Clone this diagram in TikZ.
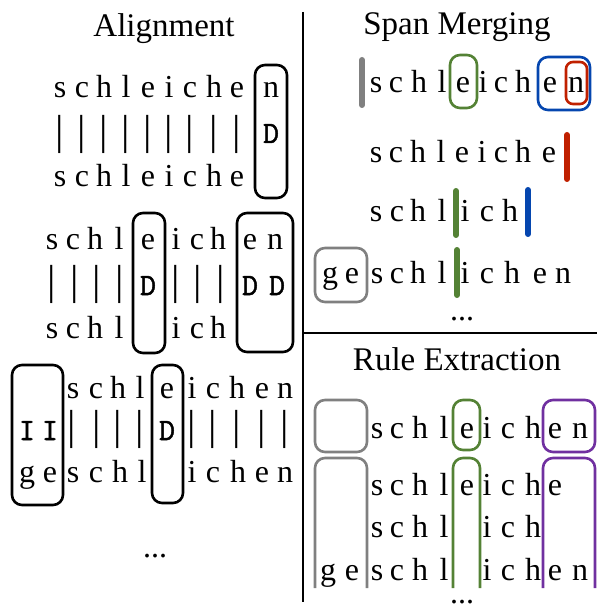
\documentclass[tikz,border=0pt]{standalone}
\usepackage{fontspec}
\setmainfont{Liberation Serif}
\newfontfamily\opfont[FakeBold=1.6]{Latin Modern Mono}
\definecolor{spangray}{RGB}{128,128,128}
\definecolor{spangreen}{RGB}{84,130,53}
\definecolor{spanblue}{RGB}{5,70,175}
\definecolor{spanred}{RGB}{192,32,0}
\definecolor{spanpurple}{RGB}{112,48,160}
\tikzstyle{ch} = [inner sep=0pt, anchor=base, font=\fontsize{32}{32}\selectfont]
\tikzstyle{op} = [inner sep=0pt, anchor=base, font=\opfont\fontsize{31}{31}\selectfont]
\tikzstyle{bar} = [inner sep=0pt, anchor=center, font=\fontsize{42}{42}\selectfont]
\tikzstyle{title} = [inner sep=0pt, anchor=base, font=\fontsize{33}{33}\selectfont]
\tikzstyle{span} = [draw, line width=2.6pt, rounded corners=10pt]
\tikzstyle{cut} = [draw, line width=6pt, line cap=round]
\tikzstyle{sep} = [draw, line width=1.4pt]
% one row of letters: name prefix, baseline, list of x/letter
\newcommand{\chrow}[3]{\foreach \x/\ltr [count=\i] in {#3} {\node [ch] (#1-\i) at (\x,#2) {\ltr};}}
\newcommand{\barrow}[3]{\foreach \x [count=\i] in {#3} {\node [bar] (#1-\i) at (\x,#2) {|};}}

\begin{document}
\begin{tikzpicture}[x=1pt,y=-1pt]
\useasboundingbox (0,0) rectangle (597,609);
\clip (0,0) rectangle (597,609);

% separators
\path [sep] (303,12) -- (303,602);
\path [sep] (303,333) -- (597,333);

% Alignment
\node [title] (ttl1) at (164,37) {Alignment};

\chrow{a1t}{98}{60/s,82/c,104/h,126/l,148/e,169/i,190/c,214/h,237/e,271/n}
\barrow{a1m}{134}{60,82,104,126,148,169,190,214,237}
\node [op] (a1d) at (271,143) {D};
\chrow{a1b}{187}{60/s,82/c,104/h,126/l,148/e,169/i,190/c,214/h,237/e}
\draw [span] (255,65) rectangle (287,198);

\chrow{a2t}{250}{52/s,73/c,95/h,119/l,148/e,176/i,197/c,218/h,250/e,275/n}
\barrow{a2m}{284}{52,75,97,120,176,198,221}
\node [op] (a2d1) at (148,295) {D};
\node [op] (a2d2) at (250,295) {D};
\node [op] (a2d3) at (277,295) {D};
\chrow{a2b}{338}{52/s,73/c,95/h,119/l,176/i,197/c,218/h}
\draw [span] (133,213) rectangle (165,353);
\draw [span] (237,213) rectangle (293,352);

\chrow{a3t}{398}{73/s,96/c,118/h,140/l,167/e,192/i,213/c,237/h,262/e,285/n}
\node [op] (a3i1) at (27,440) {I};
\node [op] (a3i2) at (50,440) {I};
\barrow{a3m}{429}{72,97,118,140,192,213,237,262,285}
\node [op] (a3d) at (167,440) {D};
\chrow{a3b}{482}{27/g,50/e,73/s,96/c,120/h,142/l,192/i,213/c,238/h,262/e,285/n}
\draw [span] (12,365) rectangle (63,505);
\draw [span] (152,365) rectangle (183,503);
\node [ch] (a3dots) at (155,557) {...};

% Span Merging
\node [title] (ttl2) at (457,35) {Span Merging};

\chrow{m1}{93}{376/s,396/c,419/h,442/l,463/e,483/i,501/c,523/h,550/e,576/n}
\chrow{m2}{163}{376/s,396/c,418/h,441/l,462/e,482/i,501/c,523/h,549/e}
\chrow{m3}{222}{376/s,397/c,418/h,442/l,465/i,487/c,510/h}
\chrow{m4}{283}{330/g,352/e,377/s,397/c,418/h,442/l,465/i,487/c,512/h,540/e,563/n}
\path [cut, spangray] (362,60) -- (362,105);
\path [cut, spanred] (567,135) -- (567,179);
\path [cut, spangreen] (456,191) -- (456,235);
\path [cut, spanblue] (528,190) -- (528,234);
\path [cut, spangreen] (457,250) -- (457,295);
\draw [span, spangreen] (450,55) rectangle (477,108);
\draw [span, spanblue] (538,57) rectangle (590,110);
\draw [span, spanred, rounded corners=7pt] (566,62) rectangle (587,104);
\draw [span, spangray] (315,248) rectangle (367,302);
\node [ch] (mdots) at (462,320) {...};

% Rule Extraction
\node [title] (ttl3) at (457,370) {Rule Extraction};

\chrow{r1}{438}{377/s,397/c,420/h,444/l,467/e,487/i,508/c,533/h,555/e,580/n}
\chrow{r2}{495}{377/s,397/c,420/h,444/l,467/e,487/i,508/c,533/h,555/e}
\chrow{r3}{537}{377/s,397/c,420/h,444/l,487/i,508/c,533/h}
\chrow{r4}{580}{328/g,352/e,377/s,397/c,420/h,444/l,487/i,508/c,533/h,555/e,580/n}
\draw [span, spangray] (315,400) rectangle (367,452);
\draw [span, spangreen] (453,400) rectangle (480,450);
\draw [span, spanpurple] (543,400) rectangle (595,452);
\draw [span, spangray] (315,588) -- (315,458) -- (367,458) -- (367,588);
\draw [span, spangreen] (453,588) -- (453,458) -- (480,458) -- (480,588);
\draw [span, spanpurple] (543,588) -- (543,458) -- (595,458) -- (595,588);
\node [ch] (rdots) at (462,603) {...};
\end{tikzpicture}
\end{document}
